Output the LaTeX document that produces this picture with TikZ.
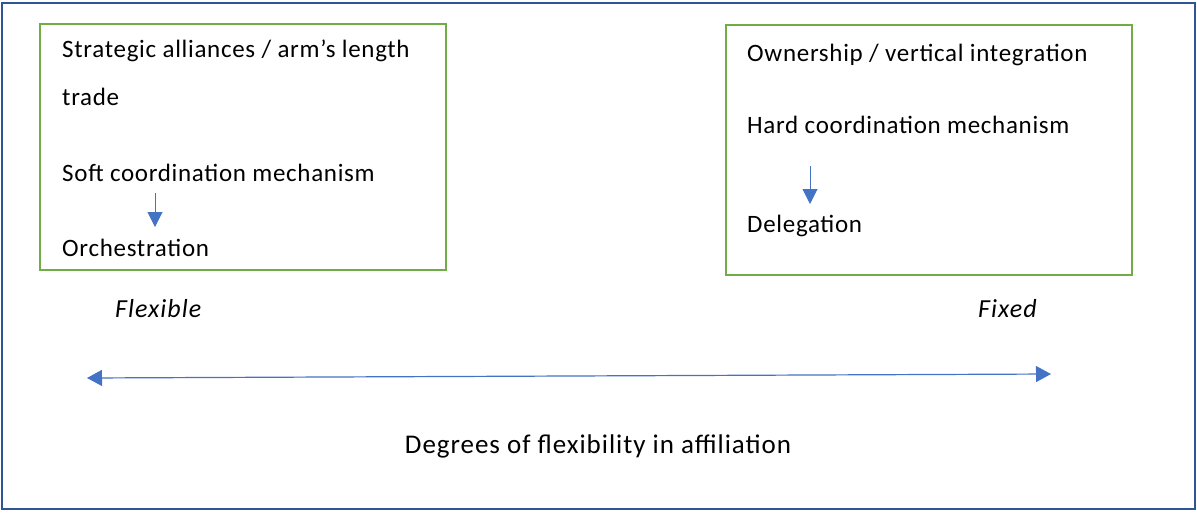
\documentclass[tikz,border=0pt]{standalone}
\usepackage{fontspec}
\setmainfont{Carlito}
\newfontfamily\boxfont[LetterSpace=2.8]{Carlito}
\newfontfamily\degfont[LetterSpace=3.6]{Carlito}
\newfontfamily\itfont[LetterSpace=4.0]{Carlito}
\usetikzlibrary{arrows.meta}
\definecolor{frameblue}{HTML}{2F5597}
\definecolor{boxgreen}{HTML}{70AD47}
\definecolor{arrowblue}{HTML}{4472C4}
\tikzset{
  greenbox/.style={draw=boxgreen, line width=2.6pt},
  lbl/.style={anchor=base west, inner sep=0pt, font=\boxfont\fontsize{25}{29}\selectfont},
  ilbl/.style={anchor=base west, inner sep=0pt, font=\itfont\fontsize{26}{30}\selectfont\itshape},
  downarrow/.style={draw=arrowblue, line width=1pt, -{Triangle[length=15pt,width=15pt]}},
  bigarrow/.style={draw=arrowblue, line width=1.2pt, {Triangle[length=15pt,width=16pt]}-{Triangle[length=15pt,width=16pt]}},
}
\begin{document}
\begin{tikzpicture}[x=1pt,y=-1pt]
\useasboundingbox (0,0) rectangle (1197,512);
\draw[frameblue, line width=2.4pt] (2,3) rectangle (1195,509);
% left box
\draw[greenbox] (40,24) rectangle (446,270);
\node[lbl] (sa) at (62,57) {Strategic alliances / arm’s length};
\node[lbl] (tr) at (62,105) {trade};
\node[lbl] (soft) at (62,181) {Soft coordination mechanism};
\node[lbl] (orch) at (62,256) {Orchestration};
\coordinate (la1) at (155,193);
\coordinate (la2) at (155,227);
\draw[downarrow] (la1) -- (la2);
% right box
\draw[greenbox] (726,25) rectangle (1132,275);
\node[lbl] (own) at (747,61.5) {Ownership / vertical integration};
\node[lbl] (hard) at (747,133) {Hard coordination mechanism};
\node[lbl] (del) at (747,232) {Delegation};
\coordinate (ra1) at (810,166);
\coordinate (ra2) at (810,204);
\draw[downarrow] (ra1) -- (ra2);
% labels
\node[ilbl] (flex) at (115,317) {Flexible};
\node[ilbl] (fix) at (978,317) {Fixed};
\coordinate (ha1) at (87,378);
\coordinate (ha2) at (1051,374);
\draw[bigarrow] (ha1) -- (ha2);
\node[anchor=base, inner sep=0pt, font=\degfont\fontsize{27}{31}\selectfont] (deg) at (598,453) {Degrees of flexibility in affiliation};
\end{tikzpicture}
\end{document}
